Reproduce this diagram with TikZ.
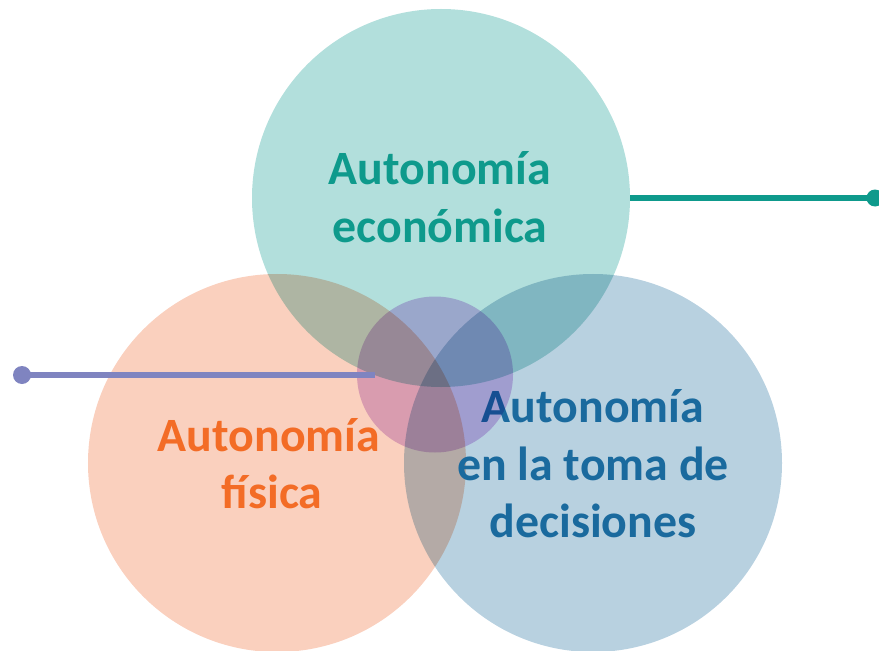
\documentclass[tikz,border=0pt]{standalone}
\usepackage{fontspec}
\setmainfont{Carlito}
\definecolor{tealc}{RGB}{178,223,220}
\definecolor{orangec}{RGB}{250,208,190}
\definecolor{bluec}{RGB}{184,209,224}
\definecolor{purplec}{RGB}{222,192,236}
\definecolor{tealtxt}{RGB}{14,154,140}
\definecolor{orangetxt}{RGB}{243,108,38}
\definecolor{bluetxt}{RGB}{26,106,158}
\definecolor{purpleline}{RGB}{127,132,192}
\tikzset{
  bigcirc/.style={circle, minimum size=378bp, inner sep=0pt, draw=none},
  smallcirc/.style={circle, minimum size=156bp, inner sep=0pt, draw=none},
  lbl/.style={anchor=base, font=\fontsize{48}{57}\selectfont\bfseries, inner sep=0pt},
}
\begin{document}
\begin{tikzpicture}[x=1bp,y=-1bp]
\useasboundingbox (0,0) rectangle (879,651);
\begin{scope}[blend group=multiply]
  \node[bigcirc, fill=tealc] (eco) at (441,198) {};
  \node[bigcirc, fill=orangec] (fis) at (277,463) {};
  \node[bigcirc, fill=bluec] (dec) at (593,463) {};
\end{scope}
\node[lbl, text=tealtxt] (e1) at (440,184) {Autonomía};
\node[lbl, text=tealtxt] (e2) at (440,242) {económica};
\node[lbl, text=orangetxt] (f1) at (269,451) {Autonomía};
\node[lbl, text=orangetxt] (f2) at (272,508) {física};
\node[lbl, text=bluetxt] (d1) at (593,422) {Autonomía};
\node[lbl, text=bluetxt] (d2) at (593,480) {en la toma de};
\node[lbl, text=bluetxt] (d3) at (593,537) {decisiones};
\begin{scope}[blend mode=multiply]
  \node[smallcirc, fill=purplec] (mid) at (435,374.5) {};
\end{scope}
\coordinate (tend) at (875,198);
\coordinate (pend) at (22,375);
\coordinate (pin) at (375,375);
\draw[tealtxt, line width=6bp] (eco.east) -- (tend);
\fill[tealtxt] (tend) circle (8.5bp);
\draw[purpleline, line width=6bp] (pend) -- (pin);
\fill[purpleline] (pend) circle (9bp);
\end{tikzpicture}
\end{document}
